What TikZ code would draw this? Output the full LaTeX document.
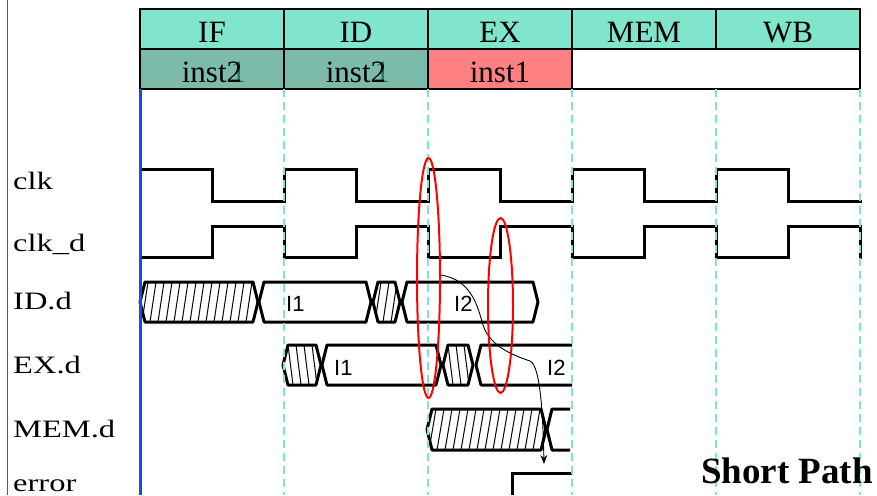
\documentclass[tikz,border=0pt]{standalone}
\usepackage{fontspec}
\setmainfont{Liberation Serif}
\setsansfont{Liberation Sans}
\usetikzlibrary{arrows.meta}
\definecolor{hdr}{HTML}{80E5CC}
\definecolor{instd}{HTML}{7CBAAA}
\definecolor{salmon}{HTML}{FF8080}
\definecolor{ghost}{HTML}{2A7A66}
\definecolor{vblue}{HTML}{1E44E6}
\tikzset{
  cellline/.style={draw=black, line width=1.2pt},
  hdrtext/.style={anchor=base, inner sep=0pt, font=\fontsize{31}{34}\selectfont},
  signame/.style={anchor=base west, inner sep=0pt, font=\fontsize{25}{28}\selectfont},
  waveline/.style={line width=3pt, line join=miter, line cap=rect},
  busline/.style={line width=3pt, line join=round},
  hatchline/.style={line width=1pt},
  buslbl/.style={anchor=base west, inner sep=0pt, font=\sffamily\fontsize{22}{24}\selectfont},
  guideline/.style={draw=hdr, line width=2pt, dash pattern=on 8pt off 5pt},
  redmark/.style={draw=red, line width=2pt},
  causal/.style={line width=0.9pt, -{Stealth[length=9pt,width=7pt]}}
}
\newcommand{\ghostinst}{inst\rlap{\hspace{4pt}\textcolor{ghost}{1}}2}
% hatched closed bus segment: x0 x1 top bottom slope
\newcommand{\hatchbus}[5]{%
  \begin{scope}
    \clip (#1,{(#3+#4)/2}) -- ({#1+5},#3) -- ({#2-5},#3) -- (#2,{(#3+#4)/2}) -- ({#2-5},#4) -- ({#1+5},#4) -- cycle;
    \pgfmathsetmacro\hA{#1-14}\pgfmathsetmacro\hB{#1-6}
    \foreach \h in {\hA,\hB,...,#2}{\draw[hatchline] (\h,#4) -- ({\h+#5},#3);}
  \end{scope}
  \draw[busline] (#1,{(#3+#4)/2}) -- ({#1+5},#3) -- ({#2-5},#3) -- (#2,{(#3+#4)/2}) -- ({#2-5},#4) -- ({#1+5},#4) -- cycle;}
% plain closed bus segment
\newcommand{\plainbus}[4]{%
  \draw[busline] (#1,{(#3+#4)/2}) -- ({#1+5},#3) -- ({#2-5},#3) -- (#2,{(#3+#4)/2}) -- ({#2-5},#4) -- ({#1+5},#4) -- cycle;}
% open-ended bus segment
\newcommand{\openbus}[4]{%
  \draw[busline] (#2,#3) -- ({#1+5},#3) -- (#1,{(#3+#4)/2}) -- ({#1+5},#4) -- (#2,#4);}
\begin{document}
\begin{tikzpicture}[x=1pt,y=-1pt]
\useasboundingbox (0,0) rectangle (877,495);
% left frame line
\draw[gray!70!black, line width=1pt] (7,0) -- (7,495);
% header
\fill[hdr] (140,9) rectangle (860,49);
\fill[instd] (140,49) rectangle (428,89);
\fill[salmon] (428,49) rectangle (572,89);
\draw[cellline] (140,9) rectangle (860,89);
\draw[cellline] (140,49) -- (860,49);
\foreach \x in {284,428,716}{\draw[cellline] (\x,9) -- (\x,49);}
\draw[cellline] (572,9) -- (572,89);
\draw[cellline] (284,49) -- (284,89);
\draw[cellline] (428,49) -- (428,89);
\node[hdrtext] (hIF)  at (212,42) {IF};
\node[hdrtext] (hID)  at (356,42) {ID};
\node[hdrtext] (hEX)  at (500,42) {EX};
\node[hdrtext] (hMEM) at (644,42) {MEM};
\node[hdrtext] (hWB)  at (788,42) {WB};
\node[hdrtext] (i1) at (212,82) {\ghostinst};
\node[hdrtext] (i2) at (356,82) {\ghostinst};
\node[hdrtext] (i3) at (500,82) {inst1};
% signal names
\node[signame] (sclk)  at (13,189) {\scalebox{1.3}[1]{clk}};
\node[signame] (sclkd) at (13,251) {\scalebox{1.3}[1]{clk\_d}};
\node[signame] (sid)   at (13,309) {\scalebox{1.3}[1]{ID.d}};
\node[signame] (sex)   at (13,373) {\scalebox{1.3}[1]{EX.d}};
\node[signame] (smem)  at (13,437) {\scalebox{1.3}[1]{MEM.d}};
\node[signame] (serr)  at (13,491) {\scalebox{1.3}[1]{error}};
% clocks
\draw[waveline] (140,169) -- (212,169) -- (212,201) -- (284,201) -- (284,169) -- (356,169) -- (356,201) -- (428,201) -- (428,169) -- (500,169) -- (500,201) -- (572,201) -- (572,169) -- (644,169) -- (644,201) -- (716,201) -- (716,169) -- (788,169) -- (788,201) -- (860,201);
\draw[waveline] (140,257) -- (212,257) -- (212,226) -- (284,226) -- (284,257) -- (356,257) -- (356,226) -- (428,226) -- (428,257) -- (500,257) -- (500,226) -- (572,226) -- (572,257) -- (644,257) -- (644,226) -- (716,226) -- (716,257) -- (788,257) -- (788,226) -- (860,226) -- (860,257);
% ID.d
\hatchbus{140}{258}{282}{322}{6}
\plainbus{259}{371}{282}{322}
\hatchbus{373}{400}{282}{322}{6}
\plainbus{402}{538}{282}{322}
\node[buslbl] (idI1) at (286,311) {I1};
\node[buslbl] (idI2) at (454,311) {I2};
% EX.d
\hatchbus{283}{321}{345}{385}{-5}
\plainbus{322}{441}{345}{385}
\hatchbus{443}{473}{345}{385}{-5}
\openbus{476}{572}{345}{385}
\node[buslbl] (exI1) at (334,375) {I1};
\node[buslbl] (exI2) at (547,375) {I2};
% MEM.d
\hatchbus{427}{546}{409}{450}{7}
\openbus{547}{570}{409}{450}
% error
\coordinate (eb) at (512,495);
\coordinate (et) at (512,473);
\coordinate (ee) at (572,473);
\draw[waveline, line cap=butt] (eb) -- (et) -- (ee);
% guides
\draw[vblue, line width=3pt] (140,89) -- (140,495);
\foreach \x in {284,428,572,716,860}{\draw[guideline] (\x,89) -- (\x,495);}
% causal path
\coordinate (ps) at (440,275);
\coordinate (pm) at (483,325);
\coordinate (pn) at (530,361);
\coordinate (pe) at (544,464);
\draw[causal] (ps) .. controls (472,279) and (478,308) .. (pm) .. controls (490,346) and (512,355) .. (pn) .. controls (541,366) and (543,420) .. (pe);
% red marks
\draw[redmark] (428.5,278) ellipse [x radius=11.5, y radius=120];
\draw[redmark] (500.5,305.5) ellipse [x radius=12.5, y radius=87.5];
% title
\node[anchor=base west, inner sep=0pt, font=\bfseries\fontsize{37}{40}\selectfont] (sp) at (701,483) {Short Path};
\end{tikzpicture}
\end{document}
